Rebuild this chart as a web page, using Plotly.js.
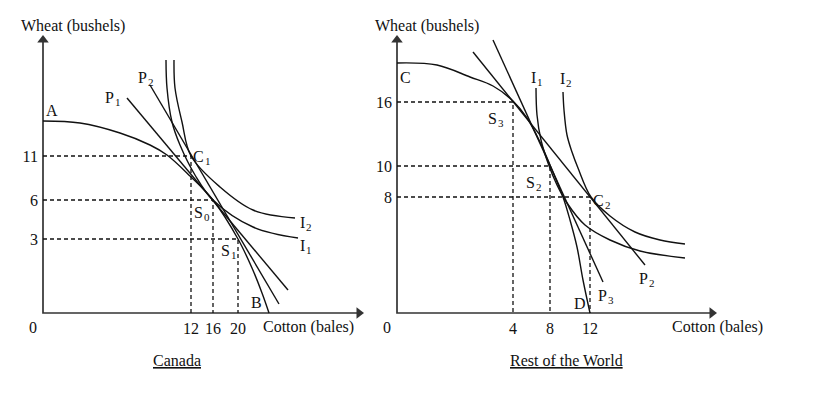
<!DOCTYPE html>
<html>
<head>
<meta charset="utf-8">
<script src="https://cdn.plot.ly/plotly-3.0.1.min.js"></script>
<style>html,body{margin:0;padding:0;background:#fff;}#chart{width:828px;height:401px;}</style>
</head>
<body>
<div id="chart"></div>
<script>
// ---- Canada (schematic diagram units) ----
const canadaCottonTicks = [148, 170, 195];
const canadaCottonLabels = ['12', '16', '20'];
const canadaWheatTicks = [157, 113, 74];
const canadaWheatLabels = ['11', '6', '3'];
const canadaPPFx = [0, 37, 77, 107, 124, 147, 170, 195, 209, 219, 226];
const canadaPPFy = [192, 190, 180, 168, 158, 137, 113, 74, 45, 20, 0];
const canadaP1x = [84, 245];
const canadaP1y = [215, 23];
const canadaP2x = [107, 236];
const canadaP2y = [228, 9];
const canadaI1x = [123, 124, 129, 137, 152, 170, 210, 255];
const canadaI1y = [253, 225, 191, 168, 138, 113, 86, 75];
const canadaI2x = [131, 132, 139, 148, 177, 210, 252];
const canadaI2y = [253, 225, 191, 157, 126, 103, 95];

// ---- Rest of the World ----
const rowCottonTicks = [116, 153, 193];
const rowCottonLabels = ['4', '8', '12'];
const rowWheatTicks = [211, 147, 116];
const rowWheatLabels = ['16', '10', '8'];
const rowPPFx = [0, 40, 73, 96, 116, 130, 143, 153, 166, 173, 180, 186, 193];
const rowPPFy = [250, 248, 236, 227, 212, 195, 171, 148, 116, 93, 66, 33, 0];
const rowP2x = [76, 248];
const rowP2y = [261, 48];
const rowP3x = [96, 206];
const rowP3y = [273, 31];
const rowI1x = [139, 140, 144, 151, 160, 170, 188, 213, 243, 288];
const rowI1y = [225, 198, 173, 150, 128, 110, 88, 73, 62, 55];
const rowI2x = [166, 167, 170, 175, 181, 194, 213, 238, 263, 288];
const rowI2y = [221, 203, 178, 161, 145, 116, 97, 81, 73, 69];

const FONT = 'Liberation Serif';
const INK = '#111';
const AXC = '#333';
const FS = 16;

function curve(x, y, ax, spline) {
  return {x: x, y: y, xaxis: ax[0], yaxis: ax[1], mode: 'lines', hoverinfo: 'skip',
    line: {color: INK, width: 1.4, shape: spline ? 'spline' : 'linear', smoothing: 1}};
}
function dashed(px, py, ax) {
  return {x: [0, px, px], y: [py, py, 0], xaxis: ax[0], yaxis: ax[1], mode: 'lines', hoverinfo: 'skip',
    line: {color: INK, width: 1.3, dash: '4px,3px'}};
}
function axisLines(xEnd, yEnd, ax) {
  return {x: [0, 0, xEnd], y: [yEnd, 0, 0], xaxis: ax[0], yaxis: ax[1], mode: 'lines', hoverinfo: 'skip',
    line: {color: AXC, width: 1.7}};
}
function heads(xEnd, yEnd, ax) {
  return {x: [0, xEnd], y: [yEnd, 0], xaxis: ax[0], yaxis: ax[1], mode: 'markers', hoverinfo: 'skip',
    cliponaxis: false,
    marker: {symbol: ['triangle-up', 'triangle-right'], size: 10, color: AXC, line: {width: 0}}};
}
const L = ['x', 'y'], R = ['x2', 'y2'];
const traces = [
  axisLines(314, 271, L), heads(316, 273, L),
  axisLines(313, 271, R), heads(315, 273, R),
  curve(canadaPPFx, canadaPPFy, L, true),
  curve(canadaP1x, canadaP1y, L, false),
  curve(canadaP2x, canadaP2y, L, false),
  curve(canadaI1x, canadaI1y, L, true),
  curve(canadaI2x, canadaI2y, L, true),
  curve(rowPPFx, rowPPFy, R, true),
  curve(rowP2x, rowP2y, R, false),
  curve(rowP3x, rowP3y, R, false),
  curve(rowI1x, rowI1y, R, true),
  curve(rowI2x, rowI2y, R, true)
];
for (let i = 0; i < 3; i++) {
  traces.push(dashed(canadaCottonTicks[i], canadaWheatTicks[i], L));
  traces.push(dashed(rowCottonTicks[i], rowWheatTicks[i], R));
}

function lab(text, x, y, ax, extra) {
  return Object.assign({text: text, x: x, y: y, xref: ax[0], yref: ax[1], showarrow: false,
    xanchor: 'center', yanchor: 'middle', borderpad: 0, borderwidth: 0,
    font: {family: FONT, size: FS, color: INK}}, extra || {});
}
// letter with a subscript, drawn as two plain texts
function sublab(main, sub, x, y, ax) {
  return [
    lab(main, x, y, ax, {xanchor: 'right', xshift: 0}),
    lab(sub, x, y, ax, {xanchor: 'left', xshift: 1, yshift: -5, font: {family: FONT, size: 11, color: INK}})
  ];
}
const annotations = [
  lab('Wheat (bushels)', 30, 287, L),
  lab('0', -10, -14, L), lab('Cotton (bales)', 265, -14, L),
  lab('Canada', 134, -47, L, {font: {family: FONT, size: FS, color: INK, lineposition: 'under'}}),
  lab('A', 9, 203, L), lab('B', 213, 11, L),
  ...sublab('P', '1', 71, 216, L), ...sublab('P', '2', 104, 236, L),
  ...sublab('C', '1', 161, 157, L), ...sublab('S', '0', 160, 101, L), ...sublab('S', '1', 187, 63, L),
  ...sublab('I', '2', 262, 91, L), ...sublab('I', '1', 262, 68, L),
  lab('Wheat (bushels)', 30, 287, R),
  lab('0', -10, -14, R), lab('Cotton (bales)', 320, -14, R),
  lab('Rest of the World', 169, -47, R, {font: {family: FONT, size: FS, color: INK, lineposition: 'under'}}),
  lab('C', 8, 236, R), lab('D', 183, 10, R),
  ...sublab('I', '1', 139, 236, R), ...sublab('I', '2', 168, 235, R),
  ...sublab('S', '3', 100, 195, R), ...sublab('S', '2', 138, 131, R), ...sublab('C', '2', 207, 113, R),
  ...sublab('P', '2', 251, 35, R), ...sublab('P', '3', 210, 18, R)
];

function xax(domain, range, tv, tt, pos) {
  return {domain: domain, range: range, anchor: 'free', position: pos,
    showgrid: false, zeroline: false, showline: false,
    tickvals: tv, ticktext: tt, ticks: '', ticklabelstandoff: 4,
    tickfont: {family: FONT, size: FS, color: INK}, fixedrange: true};
}
function yax(range, tv, tt, pos) {
  return {domain: [0, 1], range: range, anchor: 'free', position: pos,
    showgrid: false, zeroline: false, showline: false,
    tickvals: tv, ticktext: tt, ticks: '', ticklabelstandoff: 5,
    tickfont: {family: FONT, size: FS, color: INK}, fixedrange: true};
}
const xPos = 88 / 401;
const layout = {
  width: 828, height: 401, margin: {l: 0, r: 0, t: 0, b: 0},
  paper_bgcolor: '#fff', plot_bgcolor: 'rgba(0,0,0,0)', showlegend: false,
  xaxis: xax([0, 380 / 828], [-43, 337], canadaCottonTicks, canadaCottonLabels, xPos),
  yaxis: yax([-88, 313], canadaWheatTicks, canadaWheatLabels, 43 / 828),
  xaxis2: xax([380 / 828, 1], [-17, 431], rowCottonTicks, rowCottonLabels, xPos),
  yaxis2: yax([-88, 313], rowWheatTicks, rowWheatLabels, 397 / 828),
  annotations: annotations
};
Plotly.newPlot('chart', traces, layout, {staticPlot: true, displayModeBar: false});
</script>
</body>
</html>
